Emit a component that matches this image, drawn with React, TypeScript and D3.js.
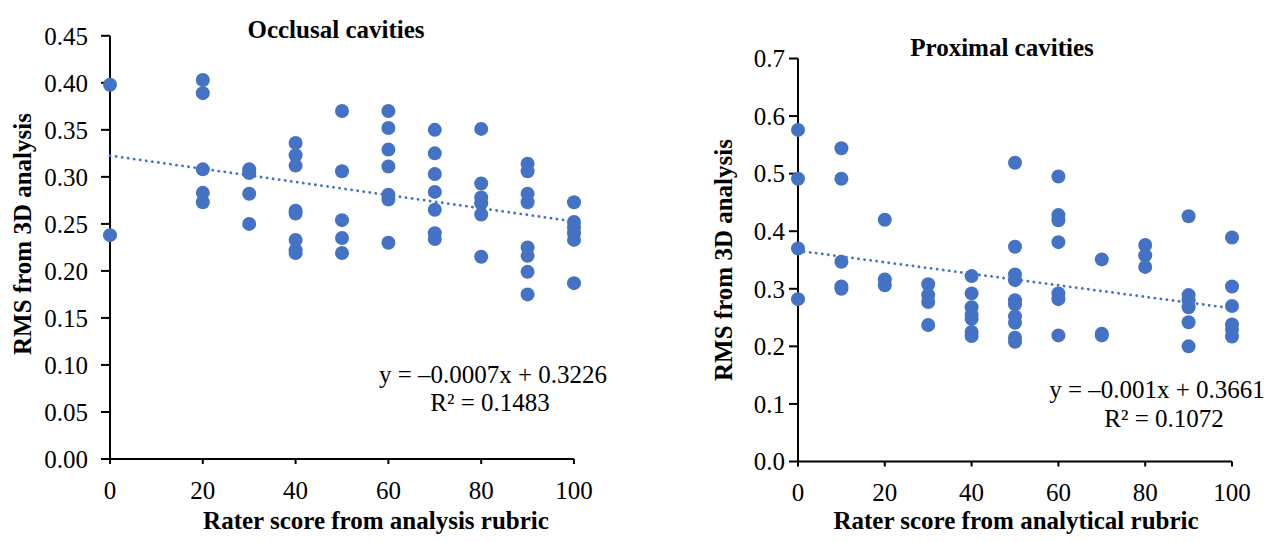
import React from "react";
import * as d3 from "d3";

// ---------- Data ----------
const occlusalX = [
  0, 0,
  20, 20, 20, 20, 20,
  30, 30, 30, 30,
  40, 40, 40, 40, 40, 40, 40, 40,
  50, 50, 50, 50, 50,
  60, 60, 60, 60, 60, 60, 60,
  70, 70, 70, 70, 70, 70, 70,
  80, 80, 80, 80, 80, 80,
  90, 90, 90, 90, 90, 90, 90, 90,
  100, 100, 100, 100, 100, 100,
];
const occlusalY = [
  0.398, 0.238,
  0.403, 0.389, 0.308, 0.283, 0.273,
  0.308, 0.304, 0.282, 0.25,
  0.336, 0.323, 0.312, 0.264, 0.261, 0.233, 0.222, 0.219,
  0.37, 0.306, 0.254, 0.235, 0.219,
  0.37, 0.352, 0.329, 0.311, 0.281, 0.276, 0.23,
  0.35, 0.325, 0.303, 0.284, 0.265, 0.24, 0.234,
  0.351, 0.293, 0.278, 0.272, 0.26, 0.215,
  0.314, 0.306, 0.282, 0.273, 0.225, 0.216, 0.199, 0.175,
  0.273, 0.252, 0.246, 0.24, 0.233, 0.187,
];
const proximalX = [
  0, 0, 0, 0,
  10, 10, 10, 10, 10,
  20, 20, 20,
  30, 30, 30, 30,
  40, 40, 40, 40, 40, 40, 40,
  50, 50, 50, 50, 50, 50, 50, 50, 50, 50,
  60, 60, 60, 60, 60, 60, 60,
  70, 70, 70,
  80, 80, 80,
  90, 90, 90, 90, 90, 90,
  100, 100, 100, 100, 100, 100,
];
const proximalY = [
  0.576, 0.491, 0.37, 0.282,
  0.544, 0.491, 0.347, 0.304, 0.3,
  0.42, 0.316, 0.306,
  0.308, 0.289, 0.277, 0.237,
  0.322, 0.292, 0.268, 0.255, 0.248, 0.225, 0.218,
  0.519, 0.373, 0.325, 0.315, 0.28, 0.273, 0.252, 0.241, 0.215, 0.208,
  0.495, 0.428, 0.419, 0.381, 0.292, 0.282, 0.219,
  0.351, 0.222, 0.219,
  0.376, 0.358, 0.338,
  0.426, 0.289, 0.28, 0.268, 0.242, 0.2,
  0.389, 0.304, 0.27, 0.238, 0.229, 0.217,
];
const xTicks = [0, 20, 40, 60, 80, 100];
const occlusalYTicks = [0, 0.05, 0.1, 0.15, 0.2, 0.25, 0.3, 0.35, 0.4, 0.45];
const proximalYTicks = [0, 0.1, 0.2, 0.3, 0.4, 0.5, 0.6, 0.7];
const occlusalFit = { slope: -0.0007, intercept: 0.3226 };
const proximalFit = { slope: -0.001, intercept: 0.3661 };

const COLOR = "#4472C4";
const FONT = "'Liberation Serif', 'Times New Roman', serif";
const FS = 25;

type PanelProps = {
  xs: number[];
  ys: number[];
  yTicks: number[];
  yMax: number;
  yFmt: (v: number) => string;
  fit: { slope: number; intercept: number };
  xRange: [number, number];
  yRange: [number, number];
  yLabelGap: number;
  xLabelDy: number;
  title: string;
  titlePos: [number, number];
  xTitle: string;
  xTitlePos: [number, number];
  yTitlePos: [number, number];
  eq1: string;
  eq1Pos: [number, number];
  eq2: string;
  eq2Pos: [number, number];
};

function Panel(p: PanelProps) {
  const x = d3.scaleLinear().domain([0, 100]).range(p.xRange);
  const y = d3.scaleLinear().domain([0, p.yMax]).range(p.yRange);
  const line = d3
    .line<number>()
    .x((d) => x(d))
    .y((d) => y(p.fit.slope * d + p.fit.intercept));
  const x0 = p.xRange[0];
  const y0 = p.yRange[0];
  return (
    <g fontFamily={FONT} fill="#000">
      <line x1={x0} x2={p.xRange[1]} y1={y0} y2={y0} stroke="#000" strokeWidth={2} />
      <line x1={x0} x2={x0} y1={y0} y2={p.yRange[1]} stroke="#000" strokeWidth={2} />
      {p.yTicks.map((t) => (
        <g key={"y" + t}>
          <line x1={x0 - 9} x2={x0} y1={y(t)} y2={y(t)} stroke="#000" strokeWidth={2} />
          <text x={x0 - p.yLabelGap} y={y(t)} dy="0.35em" textAnchor="end" fontSize={FS}>
            {p.yFmt(t)}
          </text>
        </g>
      ))}
      {xTicks.map((t) => (
        <g key={"x" + t}>
          <line x1={x(t)} x2={x(t)} y1={y0} y2={y0 + 5} stroke="#000" strokeWidth={2} />
          <text x={x(t)} y={y0 + p.xLabelDy} textAnchor="middle" fontSize={FS}>
            {t}
          </text>
        </g>
      ))}
      {p.xs.map((xv, i) => (
        <circle key={i} cx={x(xv)} cy={y(p.ys[i])} r={7} fill={COLOR} />
      ))}
      <path
        d={line([0, 100]) || ""}
        fill="none"
        stroke={COLOR}
        strokeWidth={2.8}
        strokeDasharray="0.1 6"
        strokeLinecap="round"
      />
      <text x={p.titlePos[0]} y={p.titlePos[1]} textAnchor="middle" fontSize={FS} fontWeight="bold">
        {p.title}
      </text>
      <text x={p.xTitlePos[0]} y={p.xTitlePos[1]} textAnchor="middle" fontSize={FS} fontWeight="bold">
        {p.xTitle}
      </text>
      <text
        transform={`translate(${p.yTitlePos[0]},${p.yTitlePos[1]}) rotate(-90)`}
        textAnchor="middle"
        fontSize={FS}
        fontWeight="bold"
      >
        RMS from 3D analysis
      </text>
      <text x={p.eq1Pos[0]} y={p.eq1Pos[1]} textAnchor="middle" fontSize={FS}>
        {p.eq1}
      </text>
      <text x={p.eq2Pos[0]} y={p.eq2Pos[1]} textAnchor="middle" fontSize={FS}>
        {p.eq2}
      </text>
    </g>
  );
}

export default function App() {
  return (
    <svg
      width={1275}
      height={542}
      style={{ position: "absolute", left: 0, top: 0, background: "#fff" }}
    >
      <rect width={1275} height={542} fill="#fff" />
      <Panel
        xs={occlusalX}
        ys={occlusalY}
        yTicks={occlusalYTicks}
        yMax={0.45}
        yFmt={(v) => v.toFixed(2)}
        fit={occlusalFit}
        xRange={[110, 574]}
        yRange={[459, 35.8]}
        yLabelGap={22}
        xLabelDy={40}
        title="Occlusal cavities"
        titlePos={[336, 38]}
        xTitle="Rater score from analysis rubric"
        xTitlePos={[376, 529]}
        yTitlePos={[31, 234]}
        eq1="y = –0.0007x + 0.3226"
        eq1Pos={[493, 383]}
        eq2="R² = 0.1483"
        eq2Pos={[490, 411]}
      />
      <Panel
        xs={proximalX}
        ys={proximalY}
        yTicks={proximalYTicks}
        yMax={0.7}
        yFmt={(v) => v.toFixed(1)}
        fit={proximalFit}
        xRange={[798, 1232]}
        yRange={[461.5, 58.5]}
        yLabelGap={13}
        xLabelDy={39.5}
        title="Proximal cavities"
        titlePos={[1002, 56]}
        xTitle="Rater score from analytical rubric"
        xTitlePos={[1016, 529]}
        yTitlePos={[732, 260]}
        eq1="y = –0.001x + 0.3661"
        eq1Pos={[1157, 398]}
        eq2="R² = 0.1072"
        eq2Pos={[1164, 427]}
      />
    </svg>
  );
}
